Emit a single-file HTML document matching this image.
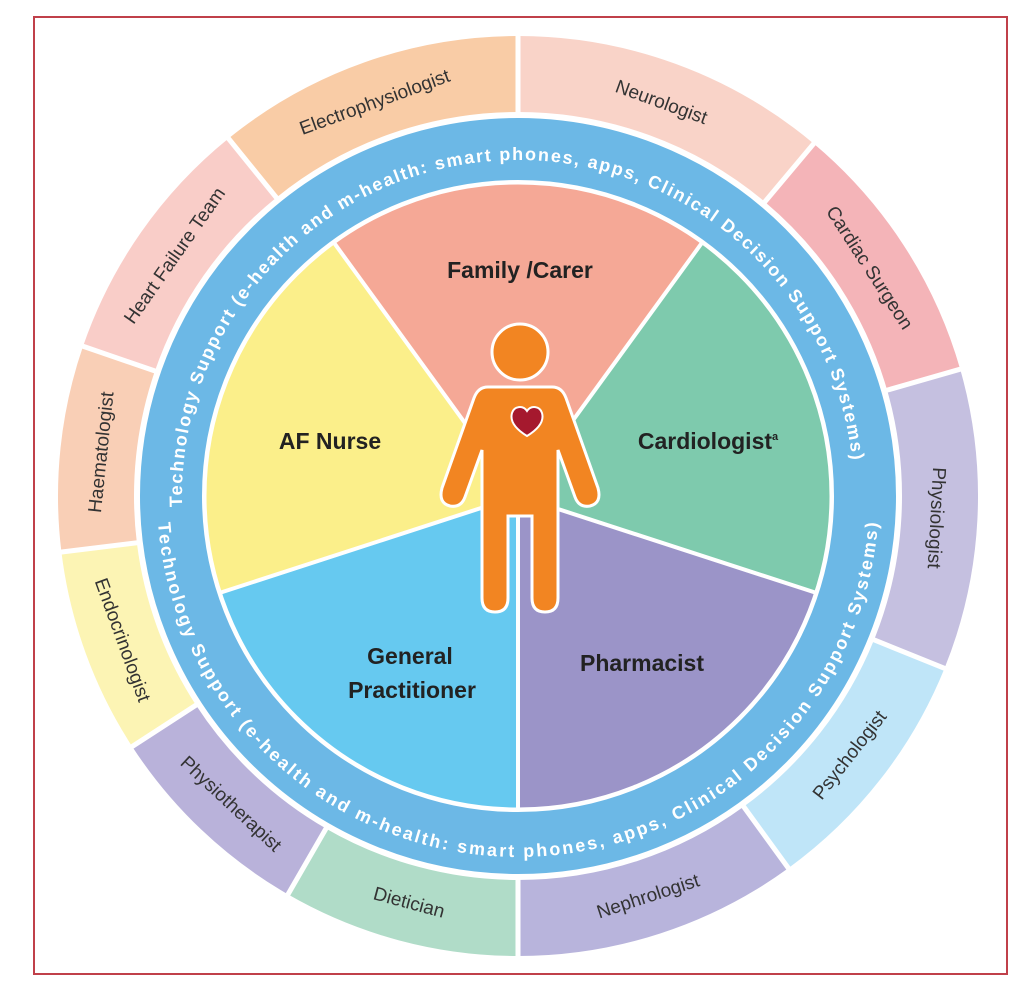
<!DOCTYPE html>
<html><head><meta charset="utf-8"><style>
html,body{margin:0;padding:0;background:#fff;width:1025px;height:992px;overflow:hidden}
svg{display:block}
.o{font-family:"Liberation Sans",sans-serif;font-size:19px;fill:#333;text-anchor:middle}
.p{font-family:"Liberation Sans",sans-serif;font-size:23px;font-weight:bold;fill:#222;text-anchor:middle}
.t{font-family:"Liberation Sans",sans-serif;font-size:18px;font-weight:bold;fill:#fff}
</style></head><body>
<svg width="1025" height="992" viewBox="0 0 1025 992" xmlns="http://www.w3.org/2000/svg">
<rect x="34" y="17" width="973" height="957" fill="#fff" stroke="#c0404a" stroke-width="2"/>
<g transform="translate(518,496)">
<g fill="none" stroke-width="76">
<circle r="422" pathLength="360" stroke="#f9d3c8" stroke-dasharray="40 400" transform="rotate(-90)"/>
<circle r="422" pathLength="360" stroke="#f4b4b8" stroke-dasharray="34 400" transform="rotate(-50)"/>
<circle r="422" pathLength="360" stroke="#c5c0e0" stroke-dasharray="38 400" transform="rotate(-16)"/>
<circle r="422" pathLength="360" stroke="#bfe5f8" stroke-dasharray="32 400" transform="rotate(22)"/>
<circle r="422" pathLength="360" stroke="#b8b4dc" stroke-dasharray="36 400" transform="rotate(54)"/>
<circle r="422" pathLength="360" stroke="#b0dcc8" stroke-dasharray="30 400" transform="rotate(90)"/>
<circle r="422" pathLength="360" stroke="#b9b2da" stroke-dasharray="27 400" transform="rotate(120)"/>
<circle r="422" pathLength="360" stroke="#fcf4b4" stroke-dasharray="26 400" transform="rotate(147)"/>
<circle r="422" pathLength="360" stroke="#f9cfb6" stroke-dasharray="26 400" transform="rotate(173)"/>
<circle r="422" pathLength="360" stroke="#f9cdc8" stroke-dasharray="32 400" transform="rotate(199)"/>
<circle r="422" pathLength="360" stroke="#f9cca6" stroke-dasharray="39 400" transform="rotate(231)"/>
</g>
<g stroke="#fff" stroke-width="5">
<line x1="0" y1="-375" x2="0" y2="-470" transform="rotate(0)"/>
<line x1="0" y1="-375" x2="0" y2="-470" transform="rotate(40)"/>
<line x1="0" y1="-375" x2="0" y2="-470" transform="rotate(74)"/>
<line x1="0" y1="-375" x2="0" y2="-470" transform="rotate(112)"/>
<line x1="0" y1="-375" x2="0" y2="-470" transform="rotate(144)"/>
<line x1="0" y1="-375" x2="0" y2="-470" transform="rotate(180)"/>
<line x1="0" y1="-375" x2="0" y2="-470" transform="rotate(210)"/>
<line x1="0" y1="-375" x2="0" y2="-470" transform="rotate(237)"/>
<line x1="0" y1="-375" x2="0" y2="-470" transform="rotate(263)"/>
<line x1="0" y1="-375" x2="0" y2="-470" transform="rotate(289)"/>
<line x1="0" y1="-375" x2="0" y2="-470" transform="rotate(321)"/>
</g>
<circle r="347" fill="none" stroke="#6cb8e6" stroke-width="62"/>
<g fill="none" stroke-width="312">
<circle r="156" pathLength="360" stroke="#f5a896" stroke-dasharray="72 400" transform="rotate(-126)"/>
<circle r="156" pathLength="360" stroke="#7ecaad" stroke-dasharray="72 400" transform="rotate(-54)"/>
<circle r="156" pathLength="360" stroke="#9b94c8" stroke-dasharray="72 400" transform="rotate(18)"/>
<circle r="156" pathLength="360" stroke="#66c9f0" stroke-dasharray="72 400" transform="rotate(90)"/>
<circle r="156" pathLength="360" stroke="#fbef8a" stroke-dasharray="72 400" transform="rotate(162)"/>
</g>
<g stroke="#fff" stroke-width="4">
<line x1="0" y1="0" x2="0" y2="-314" transform="rotate(36)"/>
<line x1="0" y1="0" x2="0" y2="-314" transform="rotate(108)"/>
<line x1="0" y1="0" x2="0" y2="-314" transform="rotate(180)"/>
<line x1="0" y1="0" x2="0" y2="-314" transform="rotate(252)"/>
<line x1="0" y1="0" x2="0" y2="-314" transform="rotate(324)"/>
</g>
<circle r="313" fill="none" stroke="#fff" stroke-width="3"/>
<circle r="381" fill="none" stroke="#fff" stroke-width="5"/>
<defs>
<path id="tp" d="M -336,0 A 336 336 0 0 1 336 0"/>
<path id="bp" d="M -361,0 A 361 361 0 0 0 361 0"/>
</defs>
<g transform="rotate(-4)">
<text class="t"><textPath href="#tp" startOffset="50%" text-anchor="middle" textLength="1030" lengthAdjust="spacing">Technology Support (e-health and m-health: smart phones, apps, Clinical Decision Support Systems)</textPath></text>
</g>
<text class="t"><textPath href="#bp" startOffset="50%" text-anchor="middle" textLength="1080" lengthAdjust="spacing">Technology Support (e-health and m-health: smart phones, apps, Clinical Decision Support Systems)</textPath></text>
<text class="o" transform="rotate(-20) translate(0,-420)" dy="7">Electrophysiologist</text>
<text class="o" transform="rotate(20) translate(0,-420)" dy="7">Neurologist</text>
<text class="o" transform="rotate(57) translate(0,-420)" dy="7">Cardiac Surgeon</text>
<text class="o" transform="rotate(93) translate(0,-420)" dy="7">Physiologist</text>
<text class="o" transform="rotate(-52) translate(0,420)" dy="7">Psychologist</text>
<text class="o" transform="rotate(-18) translate(0,420)" dy="7">Nephrologist</text>
<text class="o" transform="rotate(15) translate(0,420)" dy="7">Dietician</text>
<text class="o" transform="rotate(43) translate(0,420)" dy="7">Physiotherapist</text>
<text class="o" transform="rotate(70) translate(0,420)" dy="7">Endocrinologist</text>
<text class="o" transform="rotate(-84) translate(0,-420)" dy="7">Haematologist</text>
<text class="o" transform="rotate(-55) translate(0,-420)" dy="7">Heart Failure Team</text>
</g>
<text class="p" x="520" y="278">Family /Carer</text>
<text class="p" x="330" y="449">AF Nurse</text>
<text class="p" x="708" y="449">Cardiologist<tspan font-size="11" dy="-9">a</tspan></text>
<text class="p" x="410" y="664">General</text>
<text class="p" x="412" y="698">Practitioner</text>
<text class="p" x="642" y="671">Pharmacist</text>
<g fill="#f28522" stroke="#fff" stroke-width="3">
<circle cx="520" cy="352" r="28"/>
<path d="M488 387 L552 387 Q562 387 566 398 L598 488 Q602 503 590 506 Q579 508 575 497 L558 450 L558 598 Q558 612 545 612 Q532 612 532 598 L532 516 L508 516 L508 598 Q508 612 495 612 Q482 612 482 598 L482 450 L465 497 Q461 508 450 506 Q438 503 442 488 L474 398 Q478 387 488 387 Z"/>
</g>
<path d="M527 436 C514 428 510 420 512 413 C514 406 523 405 527 411 C531 405 540 406 542 413 C544 420 540 428 527 436 Z" fill="#a5192e" stroke="#fff" stroke-width="2"/>
</svg>
</body></html>
